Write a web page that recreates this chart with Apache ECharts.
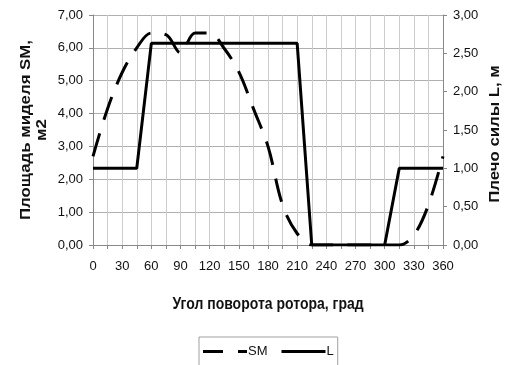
<!DOCTYPE html>
<html>
<head>
<meta charset="utf-8">
<script src="https://cdn.jsdelivr.net/npm/echarts@6/dist/echarts.min.js"></script>
<style>
html,body{margin:0;padding:0;background:#fff;}
#c{width:507px;height:365px;}
</style>
</head>
<body>
<div id="c"></div>
<script>
var angles = [0,15,30,45,60,75,90,105,120,135,150,165,180,195,210,225,240,255,270,285,300,315,330,345,360];
var smValues = [2.70,4.15,5.25,6.00,6.45,6.40,5.85,6.45,6.45,5.98,5.27,4.15,3.00,1.22,0.35,0,0,0,0,0,0,0,0.30,1.22,2.70];
var lValues = [1.00,1.00,1.00,1.00,2.63,2.63,2.63,2.63,2.63,2.63,2.63,2.63,2.63,2.63,2.63,0,0,0,0,0,0,1.00,1.00,1.00,1.00];
var xTicks = [0,30,60,90,120,150,180,210,240,270,300,330,360];
var leftTitle = 'Площадь миделя SM,\nм2';
var rightTitle = 'Плечо силы L, м';
var xTitle = 'Угол поворота ротора, град';

function pairs(xs, ys){ return xs.map(function(x,i){ return [x, ys[i]]; }); }
function fmt(v){ return v.toFixed(2).replace('.', ','); }

var FONT = 'Liberation Sans, Arial, sans-serif';
var chart = echarts.init(document.getElementById('c'));
chart.setOption({
  animation: false,
  backgroundColor: '#fff',
  textStyle: { fontFamily: FONT },
  grid: { left: 93, right: 64, top: 15, bottom: 120, containLabel: false },
  legend: {
    left: 199, top: 337,
    width: 137, height: 40,
    padding: [8, 4, 20, 4],
    borderColor: '#a0a0a0', borderWidth: 1,
    itemWidth: 44, itemHeight: 3, itemGap: 14,
    textStyle: { fontFamily: FONT, fontSize: 13, color: '#111', padding: [0,0,0,-4] },
    data: [
      { name: 'SM', icon: 'path://M0,0 L20,0 L20,3 L0,3 Z M35,0 L44,0 L44,3 L35,3 Z' },
      { name: 'L', icon: 'path://M0,0 L46,0 L46,3 L0,3 Z' }
    ]
  },
  xAxis: {
    type: 'value', min: 0, max: 360, interval: 15,
    axisLine: { show: true, lineStyle: { color: '#888', width: 1 } },
    axisTick: { show: true, length: 4, lineStyle: { color: '#888' } },
    axisLabel: {
      fontFamily: FONT, fontSize: 13, color: '#111', margin: 15,
      formatter: function(v){ return xTicks.indexOf(v) >= 0 ? String(v) : ''; }
    },
    splitLine: { show: true, lineStyle: { color: '#cccccc', width: 1 } }
  },
  yAxis: [
    {
      type: 'value', min: 0, max: 7, interval: 1, position: 'left',
      axisLine: { show: true, lineStyle: { color: '#888' } },
      axisTick: { show: true, length: 4, lineStyle: { color: '#888' } },
      axisLabel: { fontFamily: FONT, fontSize: 13, color: '#111', margin: 10, formatter: fmt },
      splitLine: { show: true, lineStyle: { color: '#b0b0b0', width: 1 } }
    },
    {
      type: 'value', min: 0, max: 3, interval: 0.5, position: 'right',
      axisLine: { show: true, lineStyle: { color: '#888' } },
      axisTick: { show: true, length: 4, lineStyle: { color: '#888' } },
      axisLabel: { fontFamily: FONT, fontSize: 13, color: '#111', margin: 10, formatter: fmt },
      splitLine: { show: false }
    }
  ],
  series: [
    {
      name: 'SM', type: 'line', yAxisIndex: 0, smooth: 0.35,
      symbol: 'none', data: pairs(angles, smValues),
      lineStyle: { color: '#000', width: 3, type: [24, 14], cap: 'butt' },
      itemStyle: { color: '#000' }
    },
    {
      name: 'L', type: 'line', yAxisIndex: 1, smooth: false,
      symbol: 'none', data: pairs(angles, lValues),
      lineStyle: { color: '#000', width: 3 },
      itemStyle: { color: '#000' }
    }
  ],
  graphic: [
    { type: 'text', x: 268, y: 305, scaleY: 1.15,
      style: { text: xTitle, font: 'bold 14px ' + FONT, fill: '#111', align: 'center', verticalAlign: 'middle' } },
    { type: 'text', x: 34, y: 130, rotation: Math.PI/2, scaleX: 1.2,
      style: { text: leftTitle, font: 'bold 14px ' + FONT, fill: '#111', align: 'center', verticalAlign: 'middle', lineHeight: 16 } },
    { type: 'text', x: 495, y: 134, rotation: Math.PI/2, scaleX: 1.2,
      style: { text: rightTitle, font: 'bold 14px ' + FONT, fill: '#111', align: 'center', verticalAlign: 'middle' } }
  ]
});
</script>
</body>
</html>
